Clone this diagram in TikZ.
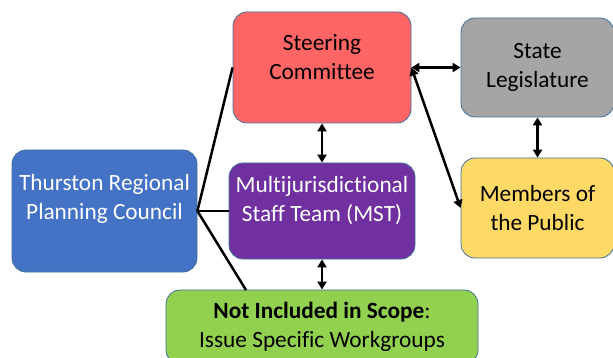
\documentclass[tikz,border=0pt]{standalone}
\usepackage{fontspec}
\setmainfont{Carlito}[Ligatures=NoCommon]
\usetikzlibrary{arrows.meta}
\definecolor{cblue}{HTML}{4472C4}
\definecolor{cred}{HTML}{FF6565}
\definecolor{cgray}{HTML}{A5A5A5}
\definecolor{cyellow}{HTML}{FFD966}
\definecolor{cpurple}{HTML}{7030A0}
\definecolor{cgreen}{HTML}{92D050}
\definecolor{cborder}{HTML}{41719C}
\tikzset{
  box/.style={draw=cborder, line width=0.8pt, rounded corners=14pt, inner sep=0pt},
  txt/.style={align=center, font=\fontsize{23.3}{29}\selectfont, inner sep=0pt},
  link/.style={line width=2.5pt, black},
  both/.style={line width=2.5pt, black, {Triangle[length=8pt,width=9pt]}-{Triangle[length=8pt,width=9pt]}}
}
\begin{document}
\begin{tikzpicture}[x=1pt,y=-1pt]
\useasboundingbox (0,0) rectangle (613,358);
\fill[white] (0,0) rectangle (613,358);
% boxes
\node[box, fill=cblue, minimum width=185pt, minimum height=122pt] (trpc) at (104.5,211) {};
\node[box, fill=cred, minimum width=178pt, minimum height=111pt] (steer) at (322,67.5) {};
\node[box, fill=cgray, minimum width=153pt, minimum height=99pt] (state) at (537.5,67.5) {};
\node[box, fill=cyellow, minimum width=153pt, minimum height=100pt] (public) at (537.5,208) {};
\node[box, fill=cpurple, minimum width=186pt, minimum height=96pt] (mst) at (322,211) {};
\node[box, fill=cgreen, minimum width=312pt, minimum height=74pt] (scope) at (322,327) {};
% texts
\node[txt, white] (trpcT) at (104.5,199) {Thurston Regional\\Planning Council};
\node[txt] (steerT) at (322,57.5) {Steering\\Committee};
\node[txt] (stateT) at (537.5,67.5) {State\\Legislature};
\node[txt] (publicT) at (537.5,207.5) {Members of\\the Public};
\node[txt, white] (mstT) at (322,200.5) {Multijurisdictional\\Staff Team (MST)};
\node[txt] (scopeT) at (322,326.5) {\textbf{Not Included in Scope}:\\Issue Specific Workgroups};
% connectors
\coordinate (scopeTop) at (246,290);
\draw[link] (steer.west) -- (trpc.east);
\draw[link] (trpc.east) -- (mst.west);
\draw[link] (trpc.east) -- (scopeTop);
\draw[both] (steer.south) -- (mst.north);
\draw[both] (mst.south) -- (scope.north);
\draw[both] (steer.east) -- (state.west);
\draw[both] (steer.east) -- (public.west);
\draw[both] (state.south) -- (public.north);
\end{tikzpicture}
\end{document}
